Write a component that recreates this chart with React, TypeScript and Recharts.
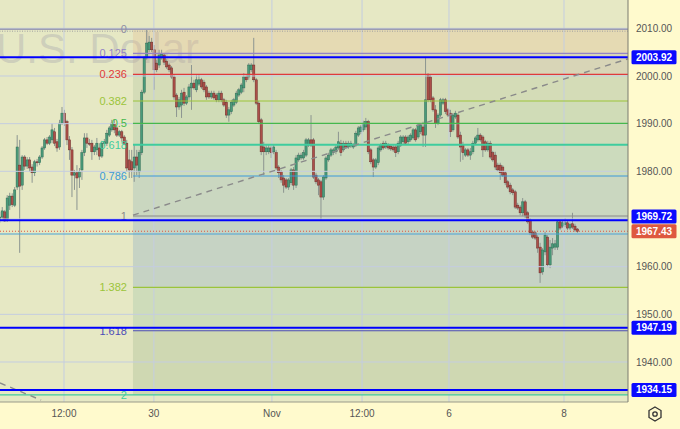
import React from 'react';
import { ComposedChart, Bar, XAxis, YAxis, ReferenceLine, ReferenceArea } from 'recharts';

// [hour index, open, high, low, close]
const ohlc: [number, number, number, number, number][] = [
  [0, 1969.8, 1971.5, 1969.2, 1970.4], [1, 1970.4, 1972.5, 1969.6, 1971.7], [2, 1971.5, 1971.9, 1969.4, 1969.6],
  [3, 1970.0, 1975.0, 1969.4, 1974.4], [4, 1972.9, 1975.5, 1971.9, 1974.8], [5, 1974.8, 1975.4, 1972.5, 1973.0],
  [6, 1972.9, 1976.7, 1972.5, 1976.1], [7, 1976.7, 1987.6, 1976.1, 1985.1], [8, 1981.3, 1986.6, 1962.9, 1976.9],
  [9, 1977.1, 1983.4, 1976.1, 1983.0], [10, 1983.0, 1983.4, 1980.3, 1981.1], [11, 1981.1, 1983.0, 1980.5, 1982.4],
  [12, 1982.4, 1983.0, 1979.9, 1980.7], [13, 1980.9, 1981.5, 1977.6, 1979.7], [14, 1979.7, 1982.4, 1979.0, 1982.0],
  [15, 1982.0, 1982.6, 1981.0, 1981.8], [16, 1981.8, 1983.4, 1981.3, 1983.0], [17, 1983.0, 1985.3, 1982.6, 1984.9],
  [18, 1984.9, 1987.0, 1984.5, 1986.6], [19, 1986.6, 1987.2, 1985.5, 1985.9], [20, 1985.9, 1987.6, 1985.5, 1987.2],
  [21, 1986.6, 1990.1, 1985.9, 1988.7], [22, 1988.3, 1989.1, 1985.3, 1985.9], [23, 1986.2, 1986.8, 1984.1, 1984.9],
  [24, 1985.1, 1990.8, 1984.5, 1990.1], [25, 1990.1, 1993.5, 1989.7, 1992.2], [26, 1992.2, 1992.9, 1989.5, 1990.1],
  [27, 1990.4, 1990.8, 1985.5, 1986.6], [28, 1986.6, 1987.4, 1982.4, 1984.5], [29, 1984.5, 1985.1, 1974.6, 1979.2],
  [30, 1979.2, 1980.3, 1976.1, 1979.7], [31, 1979.7, 1981.3, 1971.9, 1978.6], [32, 1978.8, 1980.7, 1976.5, 1979.9],
  [33, 1980.3, 1984.5, 1978.2, 1983.9], [34, 1983.9, 1988.0, 1983.2, 1987.0], [35, 1987.0, 1988.0, 1984.9, 1985.9],
  [36, 1985.9, 1986.8, 1985.3, 1985.7], [37, 1985.9, 1986.6, 1982.4, 1984.1], [38, 1984.1, 1985.5, 1983.4, 1985.1],
  [39, 1984.5, 1987.0, 1983.4, 1985.9], [40, 1984.9, 1985.9, 1982.4, 1983.2], [41, 1983.2, 1986.4, 1982.8, 1985.9],
  [42, 1985.8, 1986.8, 1985.3, 1986.2], [43, 1985.9, 1988.7, 1985.3, 1988.0], [44, 1987.6, 1989.5, 1987.2, 1989.1],
  [45, 1988.7, 1990.8, 1988.3, 1990.1], [46, 1989.9, 1990.8, 1988.0, 1988.7], [47, 1989.1, 1989.5, 1987.2, 1987.6],
  [48, 1987.6, 1988.7, 1987.2, 1988.3], [49, 1988.3, 1988.7, 1986.2, 1987.0], [50, 1987.2, 1987.6, 1985.5, 1985.9],
  [51, 1985.9, 1986.6, 1979.9, 1980.7], [52, 1982.4, 1984.5, 1978.6, 1980.3], [53, 1982.0, 1984.5, 1978.6, 1980.3],
  [54, 1980.7, 1985.5, 1977.8, 1983.0], [55, 1983.0, 1984.5, 1979.2, 1981.3], [56, 1979.9, 1984.5, 1978.6, 1983.9],
  [57, 1983.9, 1997.1, 1983.4, 1996.6], [58, 1996.6, 2004.2, 1996.2, 2003.8], [59, 2003.8, 2009.7, 2003.4, 2006.9],
  [60, 2005.5, 2008.4, 2005.0, 2007.1], [61, 2007.1, 2008.0, 2005.0, 2005.5], [62, 2005.5, 2006.5, 1997.1, 2001.3],
  [63, 2002.7, 2003.4, 2000.8, 2001.3], [64, 2002.3, 2005.5, 2001.7, 2004.4], [65, 2003.8, 2005.5, 2003.4, 2004.6],
  [66, 2004.4, 2004.8, 2002.3, 2002.9], [67, 2003.1, 2003.5, 2001.5, 2001.9], [68, 2002.3, 2002.7, 2000.8, 2001.3],
  [69, 2001.7, 2002.1, 1999.4, 1999.8], [70, 1999.8, 2000.2, 1995.0, 1995.6], [71, 1996.0, 1996.4, 1991.4, 1993.5],
  [72, 1993.5, 1995.6, 1992.9, 1995.0], [73, 1993.9, 1997.1, 1991.2, 1996.4], [74, 1996.6, 1997.5, 1993.7, 1994.3],
  [75, 1994.3, 1996.0, 1993.9, 1995.6], [76, 1995.6, 1998.3, 1995.0, 1997.7], [77, 1997.5, 2002.3, 1992.9, 1998.5],
  [78, 1998.5, 1999.2, 1997.1, 1997.5], [79, 1997.1, 2000.2, 1996.6, 1999.2], [80, 1998.3, 2000.2, 1997.9, 1999.2],
  [81, 1999.2, 1999.6, 1997.3, 1997.7], [82, 1998.7, 1999.2, 1996.6, 1997.1], [83, 1997.7, 1998.1, 1995.0, 1995.6],
  [84, 1996.4, 1996.9, 1995.2, 1995.6], [85, 1995.6, 1996.9, 1995.2, 1996.4], [86, 1996.4, 1996.9, 1995.0, 1995.4],
  [87, 1996.0, 1996.4, 1994.5, 1995.0], [88, 1995.0, 1996.9, 1994.5, 1996.4], [89, 1996.4, 1996.9, 1994.5, 1995.0],
  [90, 1995.0, 1995.4, 1993.5, 1993.9], [91, 1994.5, 1995.0, 1991.2, 1991.8], [92, 1991.8, 1993.5, 1990.4, 1992.9],
  [93, 1992.5, 1995.0, 1992.0, 1994.5], [94, 1993.9, 1995.4, 1993.5, 1995.0], [95, 1994.5, 1996.9, 1994.1, 1996.4],
  [96, 1996.0, 1997.5, 1995.6, 1997.1], [97, 1996.6, 1998.5, 1996.2, 1998.1], [98, 1997.5, 2000.6, 1996.6, 1999.8],
  [99, 1999.8, 2000.2, 1998.7, 1999.2], [100, 1999.8, 2002.7, 1999.2, 2002.3], [101, 2001.3, 2002.7, 2000.8, 2002.3],
  [102, 2002.3, 2008.0, 1998.7, 1999.2], [103, 1999.2, 1999.6, 1993.9, 1994.3], [104, 1994.3, 1994.8, 1989.9, 1990.4],
  [105, 1990.8, 1991.2, 1983.4, 1984.1], [106, 1985.1, 1986.2, 1979.2, 1984.1], [107, 1984.1, 1985.5, 1983.4, 1984.9],
  [108, 1984.1, 1985.7, 1983.6, 1984.9], [109, 1984.9, 1985.3, 1982.8, 1983.9], [110, 1984.1, 1985.5, 1983.6, 1985.1],
  [111, 1983.9, 1984.5, 1980.3, 1980.7], [112, 1980.9, 1981.3, 1978.6, 1979.7], [113, 1979.9, 1980.3, 1977.6, 1978.2],
  [114, 1978.6, 1979.2, 1975.5, 1977.1], [115, 1978.2, 1978.6, 1976.3, 1976.7], [116, 1976.7, 1978.6, 1976.1, 1978.2],
  [117, 1977.6, 1980.7, 1977.1, 1980.3], [118, 1980.3, 1980.9, 1976.1, 1977.1], [119, 1977.1, 1983.4, 1976.5, 1982.8],
  [120, 1982.4, 1983.9, 1982.0, 1983.4], [121, 1982.8, 1983.9, 1982.4, 1983.4], [122, 1982.8, 1984.5, 1982.4, 1983.9],
  [123, 1983.4, 1987.0, 1983.0, 1986.6], [124, 1985.5, 1987.0, 1985.1, 1986.6], [125, 1986.6, 1991.8, 1985.1, 1985.5],
  [126, 1986.6, 1987.0, 1978.4, 1978.8], [127, 1979.2, 1979.7, 1977.3, 1977.8], [128, 1978.2, 1978.6, 1975.0, 1977.1],
  [129, 1977.8, 1978.2, 1969.8, 1974.6], [130, 1974.6, 1979.2, 1974.0, 1978.8], [131, 1978.6, 1983.2, 1978.2, 1982.8],
  [132, 1982.4, 1983.9, 1982.0, 1983.4], [133, 1983.4, 1984.9, 1983.0, 1984.5], [134, 1983.9, 1984.9, 1983.4, 1984.5],
  [135, 1984.1, 1985.5, 1983.6, 1985.1], [136, 1984.9, 1988.3, 1984.5, 1986.2], [137, 1985.9, 1986.6, 1983.2, 1983.9],
  [138, 1984.5, 1986.4, 1984.1, 1985.9], [139, 1985.9, 1986.4, 1984.7, 1985.1], [140, 1985.1, 1986.4, 1984.7, 1985.9],
  [141, 1985.3, 1986.4, 1984.9, 1985.9], [142, 1985.1, 1985.9, 1984.7, 1985.5], [143, 1985.5, 1988.5, 1985.1, 1988.0],
  [144, 1987.6, 1989.5, 1987.2, 1989.1], [145, 1988.3, 1989.7, 1987.8, 1989.3], [146, 1988.7, 1990.6, 1988.3, 1990.1],
  [147, 1989.3, 1991.2, 1988.7, 1990.4], [148, 1990.4, 1990.8, 1983.6, 1984.1], [149, 1984.5, 1984.9, 1981.5, 1982.0],
  [150, 1982.4, 1982.8, 1978.8, 1980.9], [151, 1980.9, 1982.8, 1980.5, 1982.4], [152, 1981.8, 1985.3, 1981.3, 1984.9],
  [153, 1984.5, 1985.9, 1984.1, 1985.5], [154, 1985.9, 1986.4, 1984.5, 1984.9], [155, 1985.1, 1986.4, 1984.7, 1985.9],
  [156, 1985.5, 1985.9, 1984.5, 1984.9], [157, 1985.3, 1985.7, 1984.3, 1984.7], [158, 1985.1, 1985.5, 1984.1, 1984.5],
  [159, 1985.1, 1985.5, 1983.0, 1983.9], [160, 1984.1, 1986.4, 1983.6, 1985.9], [161, 1985.5, 1987.6, 1985.1, 1987.2],
  [162, 1986.2, 1987.6, 1985.7, 1987.2], [163, 1987.2, 1987.6, 1985.5, 1985.9], [164, 1986.2, 1987.6, 1985.7, 1987.2],
  [165, 1986.6, 1988.0, 1986.2, 1987.6], [166, 1987.0, 1989.1, 1986.6, 1988.7], [167, 1988.7, 1989.1, 1986.2, 1986.6],
  [168, 1987.2, 1990.1, 1986.8, 1989.7], [169, 1988.3, 1990.1, 1987.8, 1989.7], [170, 1989.3, 1990.4, 1985.1, 1987.6],
  [171, 1987.6, 2004.0, 1985.1, 1995.0], [172, 2000.2, 2000.6, 1994.5, 1995.0], [173, 1999.8, 2000.4, 1994.5, 1995.0],
  [174, 1995.4, 1995.8, 1992.5, 1992.9], [175, 1992.9, 1993.9, 1989.1, 1990.1], [176, 1990.1, 1992.2, 1989.7, 1991.8],
  [177, 1991.8, 1995.4, 1991.4, 1995.0], [178, 1994.3, 1995.4, 1993.9, 1995.0], [179, 1995.0, 1995.4, 1992.0, 1992.5],
  [180, 1992.9, 1993.3, 1991.4, 1991.8], [181, 1992.2, 1992.9, 1987.2, 1988.3], [182, 1988.7, 1992.2, 1988.3, 1991.8],
  [183, 1991.4, 1992.7, 1991.0, 1992.2], [184, 1991.8, 1992.2, 1986.8, 1987.2], [185, 1987.6, 1988.3, 1982.0, 1985.1],
  [186, 1985.5, 1986.2, 1982.4, 1983.9], [187, 1983.4, 1984.9, 1983.0, 1984.5], [188, 1984.5, 1984.9, 1983.0, 1983.4],
  [189, 1983.4, 1984.9, 1982.4, 1984.1], [190, 1984.1, 1986.4, 1983.6, 1985.9], [191, 1985.9, 1987.4, 1985.5, 1987.0],
  [192, 1986.6, 1989.1, 1986.2, 1987.6], [193, 1987.6, 1988.0, 1986.2, 1986.6], [194, 1987.2, 1987.6, 1983.0, 1984.5],
  [195, 1986.2, 1986.6, 1984.1, 1984.5], [196, 1984.5, 1986.4, 1984.1, 1985.9], [197, 1985.9, 1986.4, 1982.6, 1983.0],
  [198, 1983.9, 1984.3, 1982.0, 1982.4], [199, 1983.4, 1984.1, 1980.3, 1980.9], [200, 1981.3, 1981.8, 1979.9, 1980.3],
  [201, 1981.3, 1981.8, 1978.2, 1979.7], [202, 1980.9, 1981.3, 1978.8, 1979.2], [203, 1979.7, 1980.1, 1977.1, 1977.6],
  [204, 1977.8, 1978.2, 1976.3, 1976.7], [205, 1977.1, 1977.6, 1975.2, 1975.7], [206, 1976.1, 1976.5, 1975.0, 1975.5],
  [207, 1975.7, 1976.1, 1972.1, 1972.5], [208, 1972.9, 1973.4, 1971.9, 1972.3], [209, 1972.5, 1972.9, 1970.8, 1971.3],
  [210, 1971.3, 1974.4, 1970.6, 1973.6], [211, 1973.6, 1974.0, 1970.2, 1970.8], [212, 1971.3, 1971.7, 1969.0, 1969.4],
  [213, 1969.8, 1970.2, 1966.6, 1967.1], [214, 1967.3, 1967.7, 1965.8, 1966.2], [215, 1967.1, 1967.5, 1965.6, 1966.0],
  [216, 1966.2, 1966.6, 1962.9, 1963.9], [217, 1964.1, 1965.0, 1956.6, 1958.7], [218, 1958.9, 1963.9, 1958.3, 1963.5],
  [219, 1963.1, 1967.3, 1962.4, 1966.6], [220, 1966.2, 1966.6, 1959.9, 1960.4], [221, 1960.4, 1965.6, 1959.7, 1964.1],
  [222, 1963.9, 1966.0, 1962.4, 1964.8], [223, 1964.1, 1965.6, 1963.5, 1964.8], [224, 1964.1, 1969.8, 1963.5, 1969.4],
  [225, 1969.4, 1969.8, 1967.7, 1968.1], [226, 1968.5, 1969.6, 1968.1, 1969.2], [227, 1968.8, 1970.2, 1968.3, 1969.2],
  [228, 1969.2, 1969.6, 1967.7, 1968.1], [229, 1968.1, 1969.2, 1967.7, 1968.8], [230, 1969.0, 1971.3, 1967.9, 1968.3],
  [231, 1968.5, 1969.0, 1967.3, 1967.7], [232, 1967.9, 1968.1, 1967.1, 1967.43],
];

const xTicks = [25.7, 61.8, 109.2, 145.4, 180.3, 226.5];
const xTickLabels = ['12:00', '30', 'Nov', '12:00', '6', '8'];
const yTicks = [1940, 1950, 1960, 1980, 1990, 2000, 2010];
const gridPrices = [1940, 1950, 1960, 1970, 1980, 1990, 2000, 2010];
const xDomain: [number, number] = [0, 252.2];
const yDomain: [number, number] = [1931.61, 2015.94];

const fibStart = 53.4;
const fibRatios = ['0', '0.125', '0.236', '0.382', '0.5', '0.618', '0.786', '1', '1.382', '1.618', '2'];
const fibPrices = [2009.8, 2004.76, 2000.35, 1994.75, 1990.07, 1985.58, 1979.02, 1970.63, 1955.67, 1946.56, 1933.1];
const fibColors = ['#8e8ea4', '#9484c6', '#e03a3a', '#9bc43a', '#45b84c', '#3fcc9e', '#3a9ad9', '#8a8a8a', '#9bc43a', '#4c4cb6', '#3fcc9e'];
const bandFills = ['#e6b98a', '#bba998', '#adc098', '#a0c098', '#99bd9e', '#93bdac', '#8cafb6', '#7fa2c3', '#99c0a2', '#9db387'];

const bluePrices = [2003.92, 1969.72, 1947.19, 1934.15];
const blueLabelShift = [0, -3.8, 0, 0];
const lastPrice = 1967.43;
const lightBluePrice = 1966.85;
const topGrayPrice = 2009.8;
const trendUp = [{ x: 53.4, y: 1970.8 }, { x: 252.2, y: 2003.6 }];
const trendDown = [{ x: 0, y: 1935.6 }, { x: 16.5, y: 1932.0 }];

const data = ohlc.map(([t, o, h, l, c]) => ({ t, o, h, l, c, range: [l, h] }));

const Candle = (props: any) => {
  const { x, y, width, height, payload } = props;
  if (x == null || y == null || !payload) return null;
  const { o, h, l, c } = payload;
  const top = Math.min(y, y + height);
  const span = Math.abs(height);
  const px = (v: number) => (h === l ? top : top + ((h - v) / (h - l)) * span);
  const cx = x + width / 2;
  const up = c >= o;
  const yTop = px(Math.max(o, c));
  const yBot = px(Math.min(o, c));
  const bw = 2.2;
  return (
    <g>
      <line x1={cx} x2={cx} y1={top} y2={top + span} stroke="#8c9590" strokeWidth={1} />
      <rect
        x={cx - bw / 2}
        y={yTop}
        width={bw}
        height={Math.max(yBot - yTop, 1)}
        fill={up ? '#4a9a7a' : '#ac4f49'}
        stroke={up ? '#2e6c54' : '#6c2d29'}
        strokeWidth={0.5}
      />
    </g>
  );
};

const fibLabel = (text: string, color: string) => (props: any) => {
  const vb = props.viewBox || {};
  return (
    <text x={(vb.x ?? 0) - 6} y={vb.y ?? 0} dy="0.36em" textAnchor="end" fill={color} fontSize={11} fontFamily="Liberation Sans, Arial, sans-serif">
      {text}
    </text>
  );
};

const priceBox = (value: number, fill: string, shift: number) => (props: any) => {
  const vb = props.viewBox || {};
  const x = (vb.x ?? 0) + (vb.width ?? 0) + 3.5;
  const cy = (vb.y ?? 0) + shift;
  return (
    <g>
      <rect x={x} y={cy - 7} width={45} height={14} fill={fill} rx={1.5} />
      <text x={x + 22.5} y={cy} dy="0.36em" textAnchor="middle" fill="#ffffff" fontSize={10} fontWeight="bold" fontFamily="Liberation Sans, Arial, sans-serif">
        {value.toFixed(2)}
      </text>
    </g>
  );
};

export default function App() {
  return (
    <div style={{ position: 'absolute', left: 0, top: 0, width: 680, height: 429, background: '#e6e8c4', overflow: 'hidden', fontFamily: 'Liberation Sans, Arial, sans-serif' }}>
      <div style={{ position: 'absolute', left: 628, top: 0, width: 52, height: 429, background: '#fffacd' }} />
      <div style={{ position: 'absolute', left: 0, top: 402, width: 680, height: 27, background: '#fffacd' }} />
      <svg width={680} height={429} style={{ position: 'absolute', left: 0, top: 0 }}>
        <text x={-4} y={63} fontSize={42} fill="#b0b0b0" fillOpacity={0.45} fontFamily="Liberation Sans, Arial, sans-serif">
          U.S. Dollar
        </text>
      </svg>
      <div style={{ position: 'absolute', left: 0, top: 0 }}>
        <ComposedChart width={680} height={429} data={data} margin={{ top: 0, right: 0, bottom: 0, left: 0 }}>
          <XAxis
            dataKey="t"
            type="number"
            domain={xDomain}
            allowDataOverflow
            ticks={xTicks}
            interval={0}
            tickFormatter={(v: number) => xTickLabels[xTicks.indexOf(v)] ?? ''}
            height={27}
            tickLine={false}
            axisLine={{ stroke: '#9a9a8a' }}
            tick={{ fill: '#555555', fontSize: 10 }}
          />
          <YAxis
            orientation="right"
            type="number"
            domain={yDomain}
            allowDataOverflow
            ticks={yTicks}
            interval={0}
            tickFormatter={(v: number) => v.toFixed(2)}
            width={52}
            tickLine={false}
            axisLine={{ stroke: '#7a7a70' }}
            tick={{ fill: '#555555', fontSize: 10, textAnchor: 'start' }}
          />
          {bandFills.map((f, i) => (
            <ReferenceArea
              key={'band' + i}
              x1={fibStart}
              x2={xDomain[1]}
              y1={fibPrices[i + 1]}
              y2={fibPrices[i]}
              fill={f}
              fillOpacity={0.3}
              stroke="none"
            />
          ))}
          {gridPrices.map((p) => (
            <ReferenceLine key={'gh' + p} y={p} stroke="#c4cde0" strokeWidth={1} />
          ))}
          {xTicks.map((t) => (
            <ReferenceLine key={'gv' + t} x={t} stroke="#c4cde0" strokeWidth={1} />
          ))}
          <ReferenceLine y={topGrayPrice} stroke="#9c9cb2" strokeWidth={1.5} />
          <ReferenceLine y={topGrayPrice - 0.4} stroke="#a0a0a0" strokeWidth={1} strokeDasharray="1 1.5" />
          {fibPrices.map((p, i) =>
            i === 0 ? (
              <ReferenceLine
                key={'fib' + i}
                segment={[{ x: fibStart, y: p }, { x: xDomain[1], y: p }]}
                stroke="none"
                label={fibLabel(fibRatios[i], fibColors[i])}
              />
            ) : (
              <ReferenceLine
                key={'fib' + i}
                segment={[{ x: i === 10 ? 0 : fibStart, y: p }, { x: xDomain[1], y: p }]}
                stroke={fibColors[i]}
                strokeWidth={i === 5 ? 2 : 1.2}
                label={i === 10 ? undefined : fibLabel(fibRatios[i], fibColors[i])}
              />
            )
          )}
          <ReferenceLine
            segment={[{ x: fibStart, y: fibPrices[10] }, { x: fibStart + 0.01, y: fibPrices[10] }]}
            stroke="none"
            label={fibLabel(fibRatios[10], fibColors[10])}
          />
          <ReferenceLine segment={trendUp} stroke="#8a8a8a" strokeWidth={1.4} strokeDasharray="6 5" />
          <ReferenceLine segment={trendDown} stroke="#8a8a8a" strokeWidth={1.4} strokeDasharray="6 5" />
          <ReferenceLine y={lightBluePrice} stroke="#4aa3d6" strokeWidth={1} />
          <Bar dataKey="range" shape={Candle} isAnimationActive={false} barSize={2} />
          {bluePrices.map((p, i) => (
            <ReferenceLine key={'blue' + p} y={p} stroke="#0000ff" strokeWidth={2} label={priceBox(p, '#0a0aff', blueLabelShift[i])} />
          ))}
          <ReferenceLine y={lastPrice} stroke="#e0533f" strokeWidth={1} strokeDasharray="1 2" label={priceBox(lastPrice, '#de5840', 0)} />
        </ComposedChart>
      </div>
      <svg width={680} height={429} style={{ position: 'absolute', left: 0, top: 0, pointerEvents: 'none' }}>
        <polygon points="655,407 661,410.5 661,417.5 655,421 649,417.5 649,410.5" fill="none" stroke="#333" strokeWidth={1.3} />
        <circle cx={655} cy={414} r={2.2} fill="none" stroke="#333" strokeWidth={1.3} />
      </svg>
    </div>
  );
}
